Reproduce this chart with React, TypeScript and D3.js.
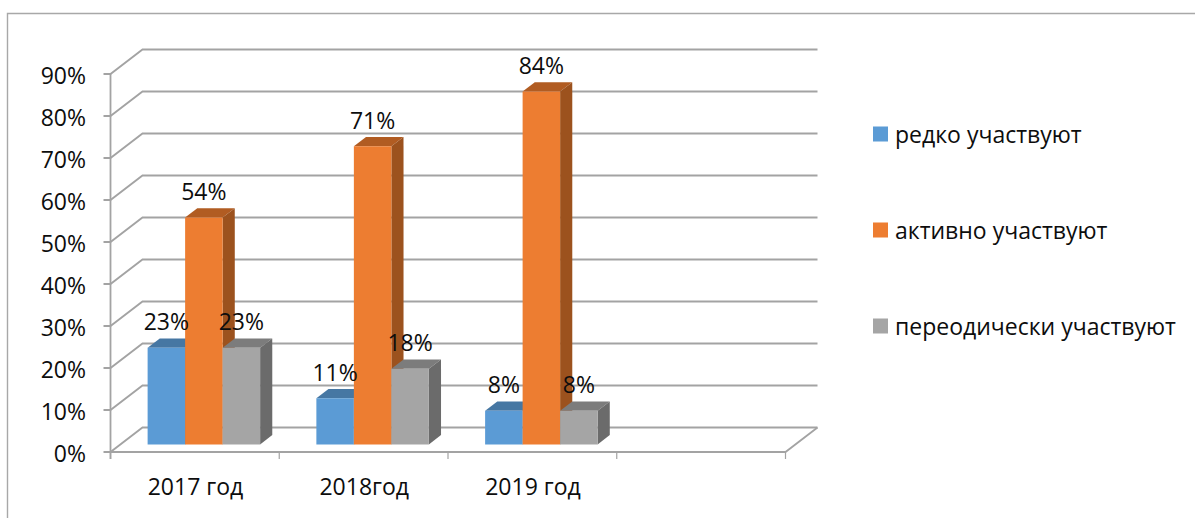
import React from "react";
import * as d3 from "d3";

const categories = ["2017 год", "2018год", "2019 год", ""];
const percentTicks = [0, 10, 20, 30, 40, 50, 60, 70, 80, 90];
const rarely = [23, 11, 8];
const actively = [54, 71, 84];
const periodically = [23, 18, 8];
const seriesNames = ["редко участвуют", "активно участвуют", "переодически участвуют"];
const seriesValues = [rarely, actively, periodically];
const frontColors = ["#5b9bd5", "#ed7d31", "#a5a5a5"];
const sideColors = ["#3f6f9b", "#9c521e", "#6b6b6b"];
const topColors = ["#4677a3", "#b15c22", "#7c7c7c"];

const WIDTH = 1195;
const HEIGHT = 518;
const FONT = "'Open Sans', sans-serif";
const FONT_SIZE = 23;
const GRID = "#a3a3a3";
const DX = 32;
const DY = 24.5;

const x = d3.scaleBand<string>().domain(categories).range([110.5, 785.5]).paddingInner(0).paddingOuter(0);
const y = d3.scaleLinear().domain([0, 90]).range([452, 74]);

const project = (px: number, v: number, z: number): [number, number] => [px + DX * z, y(v) - DY * z];
const poly = (pts: [number, number][]) => d3.line()(pts) + "Z";

const Z0 = 0.31;
const Z1 = 0.69;
const BAR_OFFSET = 27.2;
const BAR_W = 37.5;

export default function App() {
  return (
    <svg width={WIDTH} height={HEIGHT} style={{ position: "absolute", left: 0, top: 0, background: "#fff" }} fontFamily={FONT}>
      <path d={`M7.5 518V13.5H${WIDTH}`} fill="none" stroke="#a8a8a8" strokeWidth={1.4} />

      {percentTicks.map((t) => {
        const [fx, fy] = project(110.5, t, 0);
        const [bx, by] = project(110.5, t, 1);
        const [ex] = project(785.5, t, 1);
        return (
          <g key={t}>
            <path d={`M${fx - 7} ${fy}H${fx}L${bx} ${by}H${ex}`} fill="none" stroke={GRID} strokeWidth={1.8} />
            <text x={86} y={fy + 1.5} dy="0.36em" textAnchor="end" fontSize={FONT_SIZE} fill="#0d0d0d">{t}%</text>
          </g>
        );
      })}
      <path d={`M110.5 ${y(90)}V459`} fill="none" stroke={GRID} strokeWidth={1.8} />
      <path
        d={`M110.5 ${y(0)}H785.5L${785.5 + DX} ${y(0) - DY}`}
        fill="none"
        stroke={GRID}
        strokeWidth={1.8}
      />
      {categories.map((c) => (
        <line key={"t" + c} x1={x(c)!} x2={x(c)!} y1={452} y2={459} stroke={GRID} strokeWidth={1.2} />
      ))}
      <line x1={785.5} x2={785.5} y1={452} y2={459} stroke={GRID} strokeWidth={1.2} />

      {categories.map((c, ci) =>
        c === "" ? null : (
          <g key={c}>
            {seriesValues.map((vals, si) => {
              const left = x(c)! + BAR_OFFSET + si * BAR_W;
              const right = left + BAR_W;
              const v = vals[ci];
              const a = project(left, 0, Z0);
              const b = project(right, 0, Z0);
              const cc = project(right, v, Z0);
              const d = project(left, v, Z0);
              const e = project(right, 0, Z1);
              const f = project(right, v, Z1);
              const g = project(left, v, Z1);
              return (
                <g key={si}>
                  <path d={poly([d, cc, f, g])} fill={topColors[si]} />
                  <path d={poly([b, e, f, cc])} fill={sideColors[si]} />
                  <path d={poly([a, b, cc, d])} fill={frontColors[si]} />
                </g>
              );
            })}
          </g>
        )
      )}

      {categories.map((c, ci) =>
        c === "" ? null : (
          <g key={"lab" + c}>
            {seriesValues.map((vals, si) => {
              const left = x(c)! + BAR_OFFSET + si * BAR_W;
              const [px, py] = project(left + BAR_W / 2, vals[ci], Z0);
              return (
                <text key={si} x={px} y={py - 17.5} textAnchor="middle" fontSize={FONT_SIZE} fill="#0d0d0d">
                  {vals[ci]}%
                </text>
              );
            })}
            <text x={x(c)! + 85} y={495} textAnchor="middle" fontSize={FONT_SIZE} fill="#0d0d0d">
              {c}
            </text>
          </g>
        )
      )}

      {seriesNames.map((name, i) => {
        const cy = d3.scalePoint<string>().domain(seriesNames).range([134, 326])(name)!;
        return (
          <g key={name}>
            <rect x={873} y={cy - 7.5} width={15} height={15} fill={frontColors[i]} />
            <text x={895} y={cy + 1} dy="0.36em" fontSize={FONT_SIZE} fill="#0d0d0d">{name}</text>
          </g>
        );
      })}
    </svg>
  );
}
